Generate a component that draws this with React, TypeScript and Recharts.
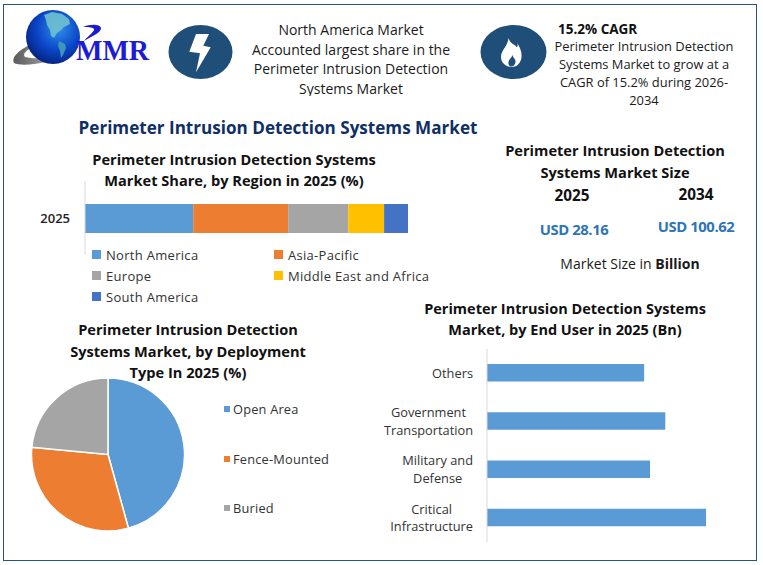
import React from "react";
import { BarChart, Bar, XAxis, YAxis, PieChart, Pie, Cell } from "recharts";

const FONT = '"Open Sans", "Noto Sans", sans-serif';

const regionNames = ["North America", "Asia-Pacific", "Europe", "Middle East and Africa", "South America"];
const regionValues = [33.5, 29.4, 18.6, 11.1, 7.4];
const regionColors = ["#5B9BD5", "#ED7D31", "#A5A5A5", "#FFC000", "#4472C4"];
const regionYear = "2025";

const deploymentNames = ["Open Area", "Fence-Mounted", "Buried"];
const deploymentValues = [45.7, 30.8, 23.5];
const deploymentColors = ["#5B9BD5", "#ED7D31", "#A5A5A5"];

const endUserNames = ["Others", "Government\nTransportation", "Military and\nDefense", "Critical\nInfrastructure"];
const endUserValues = [6.17, 7.0, 6.4, 8.6];

const regionRow: Record<string, string | number> = { year: regionYear };
regionNames.forEach((n, i) => (regionRow[n] = regionValues[i]));
const deploymentRows = deploymentNames.map((name, i) => ({ name, value: deploymentValues[i] }));
const endUserRows = endUserNames.map((name, i) => ({ name, value: endUserValues[i] }));

function measure(text: string, font: string) {
  const ctx = document.createElement("canvas").getContext("2d")!;
  ctx.font = font;
  return ctx.measureText(text).width;
}

function Txt({ x, y, w, size, bold, color, children, lh, align, clip, spacing }: any) {
  return (
    <div
      style={{
        position: "absolute",
        left: x,
        top: y,
        width: w,
        fontSize: size,
        fontWeight: bold ? 700 : 400,
        color: color || "#1a1a1a",
        lineHeight: lh ? lh + "px" : "normal",
        textAlign: align || "center",
        height: clip,
        overflow: clip ? "hidden" : undefined,
        letterSpacing: spacing,
        whiteSpace: "nowrap",
      }}
    >
      {children}
    </div>
  );
}

function EndUserTick({ x, y, payload }: any) {
  const lines: string[] = String(payload.value).split("\n");
  const font = `12.8px ${FONT}`;
  const widths = lines.map((l) => measure(l, font));
  const max = Math.max(...widths);
  const lh = 17.5;
  const right = x - 6;
  return (
    <text fontFamily={FONT} fontSize={12.8} fill="#333" textAnchor="end">
      {lines.map((l, i) => (
        <tspan key={i} x={right - (max - widths[i]) / 2} y={y + 4.5 + (i - (lines.length - 1) / 2) * lh}>
          {l}
        </tspan>
      ))}
    </text>
  );
}

function Logo() {
  return (
    <svg style={{ position: "absolute", left: 0, top: 0 }} width={160} height={80}>
      <defs>
        <radialGradient id="globe" cx="0.6" cy="0.35" r="0.8">
          <stop offset="0" stopColor="#2f8fea" />
          <stop offset="0.5" stopColor="#0a45c8" />
          <stop offset="1" stopColor="#021560" />
        </radialGradient>
        <linearGradient id="swoosh" x1="0" y1="0" x2="1" y2="0">
          <stop offset="0" stopColor="#5a5a5a" />
          <stop offset="0.5" stopColor="#9a9a9a" />
          <stop offset="1" stopColor="#2030a0" />
        </linearGradient>
      </defs>
      <path d="M32 44 C18 50 11 58 14 63 C22 67 52 64 78 50 C60 58 36 60 25 57 C22 54 27 49 34 47 Z" fill="url(#swoosh)" />
      <circle cx={53} cy={37} r={27} fill="url(#globe)" />
      <path d="M44 15 L52 12 L62 14 L69 19 L70 24 L64 27 L60 31 L57 33 L54 38 L51 36 L50 30 L47 25 L46 20 Z" fill="#6fc0cf" opacity={0.9} />
      <path d="M59 41 L65 44 L66 48 L63 55 L61 58 L60 51 L58 46 Z" fill="#3f95ba" />
      <path d="M83 27 C90 24 100 24 101 28 C101 33 92 36 84 41 C90 34 95 31 94 29 C92 27 87 27 83 27 Z" fill="#1a1ad0" />
      <text x={76} y={60} fontFamily="Liberation Serif, serif" fontWeight={700} fontSize={29} fill="#1c1cd6" textLength={73} lengthAdjust="spacingAndGlyphs">
        MMR
      </text>
    </svg>
  );
}

function Icons() {
  return (
    <svg style={{ position: "absolute", left: 0, top: 0 }} width={763} height={90}>
      <ellipse cx={200.5} cy={52} rx={32} ry={27} fill="#1F4E79" />
      <path d="M196 34 L209 34 L203.3 45.7 L210.7 47.3 L196 72.3 L200 53.3 L189.3 51.7 Z" fill="#fff" />
      <ellipse cx={513.5} cy={52} rx={33} ry={27} fill="#1F4E79" />
      <path d="M508.5 38 C510 44 516 45 516.5 47 C518 47 518 45 517 43 C520 47 522 52 521.5 57 C521 63 517 67 512 67 C506 67 501 63 501 57 C501 50 508 46 508.5 38 Z" fill="#fff" />
      <path d="M512.5 55 C513 58 516 59 515.5 62 C515 65 513 66.5 511.5 66.5 C509 66.5 508 64 508.5 62 C509 59 511.5 58 512.5 55 Z" fill="#1F4E79" />
    </svg>
  );
}

export default function App() {
  return (
    <div
      style={{
        position: "absolute",
        left: 0,
        top: 0,
        width: 763,
        height: 565,
        background: "#fff",
        overflow: "hidden",
        fontFamily: FONT,
      }}
    >
      <div style={{ position: "absolute", left: 3, top: 4, width: 752, height: 555, border: "1.5px solid #2A5478" }} />
      <Logo />
      <Icons />

      <Txt x={231} y={20} w={240} size={14} lh={19.5} clip={76}>
        North America Market
        <br />
        Accounted largest share in the
        <br />
        Perimeter Intrusion Detection
        <br />
        Systems Market
      </Txt>
      <Txt x={558} y={21} w={100} size={13.5} bold align="left" color="#111" lh={16}>
        15.2% CAGR
      </Txt>
      <Txt x={534} y={37} w={220} size={12.9} lh={18}>
        Perimeter Intrusion Detection
        <br />
        Systems Market to grow at a
        <br />
        CAGR of 15.2% during 2026-
        <br />
        2034
      </Txt>

      <Txt x={40} y={116} w={476} size={17.1} bold color="#0F2F66">
        Perimeter Intrusion Detection Systems Market
      </Txt>

      <Txt x={84} y={149} w={300} size={14.6} bold lh={20.5} color="#111">
        Perimeter Intrusion Detection Systems
        <br />
        Market Share, by Region in 2025 (%)
      </Txt>

      <Txt x={465} y={139} w={300} size={14.6} bold lh={22} color="#111">
        Perimeter Intrusion Detection
        <br />
        Systems Market Size
      </Txt>
      <Txt x={532} y={185} w={80} size={15.3} bold color="#111">
        2025
      </Txt>
      <Txt x={656} y={184} w={80} size={15.3} bold color="#111">
        2034
      </Txt>
      <Txt x={514} y={219} w={120} size={14.8} bold color="#2E75B6" spacing={-0.4}>
        USD 28.16
      </Txt>
      <Txt x={636} y={216} w={120} size={14.8} bold color="#2E75B6" spacing={-0.4}>
        USD 100.62
      </Txt>
      <div style={{ position: "absolute", left: 530, top: 254, width: 200, textAlign: "center", fontSize: 14, color: "#1a1a1a" }}>
        Market Size in <b>Billion</b>
      </div>

      <div style={{ position: "absolute", left: 0, top: 181 }}>
        <BarChart
          width={440}
          height={74}
          layout="vertical"
          data={[regionRow]}
          margin={{ top: 0, right: 32, bottom: 0, left: 0 }}
        >
          <XAxis type="number" domain={[0, 100]} hide />
          <YAxis
            type="category"
            dataKey="year"
            width={85}
            axisLine={{ stroke: "#D9D9D9" }}
            tickLine={false}
            tickMargin={9}
            tick={{ fontFamily: FONT, fontSize: 13, fontWeight: 600, fill: "#222" }}
          />
          {regionNames.map((n, i) => (
            <Bar key={n} dataKey={n} stackId="r" fill={regionColors[i]} barSize={29} isAnimationActive={false} />
          ))}
        </BarChart>
      </div>

      <div
        style={{
          position: "absolute",
          left: 92,
          top: 244,
          width: 350,
          display: "grid",
          gridTemplateColumns: "182px 168px",
          gridAutoRows: "21px",
          alignItems: "center",
        }}
      >
        {regionNames.map((n, i) => (
          <div key={n} style={{ display: "flex", alignItems: "center", fontSize: 13, color: "#333", letterSpacing: 0.3, whiteSpace: "nowrap" }}>
            <span style={{ width: 9, height: 9, background: regionColors[i], marginRight: 5, display: "inline-block" }} />
            {n}
          </div>
        ))}
      </div>

      <Txt x={28} y={319} w={320} size={14.6} bold lh={21.5} color="#111">
        Perimeter Intrusion Detection
        <br />
        Systems Market, by Deployment
        <br />
        Type In 2025 (%)
      </Txt>

      <div style={{ position: "absolute", left: 0, top: 370 }}>
        <PieChart width={220} height={170} margin={{ top: 0, right: 0, bottom: 0, left: 0 }}>
          <Pie
            data={deploymentRows}
            dataKey="value"
            nameKey="name"
            cx={108}
            cy={84.5}
            outerRadius={76.5}
            startAngle={90}
            endAngle={-270}
            stroke="#fff"
            strokeWidth={1.5}
            isAnimationActive={false}
          >
            {deploymentRows.map((r, i) => (
              <Cell key={r.name} fill={deploymentColors[i]} />
            ))}
          </Pie>
        </PieChart>
      </div>

      <div style={{ position: "absolute", left: 224, top: 397, width: 130 }}>
        {deploymentNames.map((n, i) => (
          <div
            key={n}
            style={{ height: 49.5, lineHeight: "24px", display: "flex", alignItems: "flex-start", fontSize: 12.8, color: "#333", letterSpacing: 0.2, whiteSpace: "nowrap" }}
          >
            <span style={{ width: 6, height: 6, background: deploymentColors[i], margin: "9px 3px 0 0", display: "inline-block" }} />
            {n}
          </div>
        ))}
      </div>

      <Txt x={415} y={298} w={300} size={14.5} bold lh={21} color="#111">
        Perimeter Intrusion Detection Systems
        <br />
        Market, by End User in 2025 (Bn)
      </Txt>

      <div style={{ position: "absolute", left: 360, top: 349 }}>
        <BarChart
          width={403}
          height={193}
          layout="vertical"
          data={endUserRows}
          margin={{ top: 0, right: 21.3, bottom: 0, left: 0 }}
        >
          <XAxis type="number" domain={[0, 10]} hide />
          <YAxis
            type="category"
            dataKey="name"
            width={127}
            axisLine={{ stroke: "#D9D9D9" }}
            tickLine={false}
            tick={<EndUserTick />}
            interval={0}
          />
          <Bar dataKey="value" fill="#5B9BD5" barSize={17.5} isAnimationActive={false} />
        </BarChart>
      </div>
    </div>
  );
}
